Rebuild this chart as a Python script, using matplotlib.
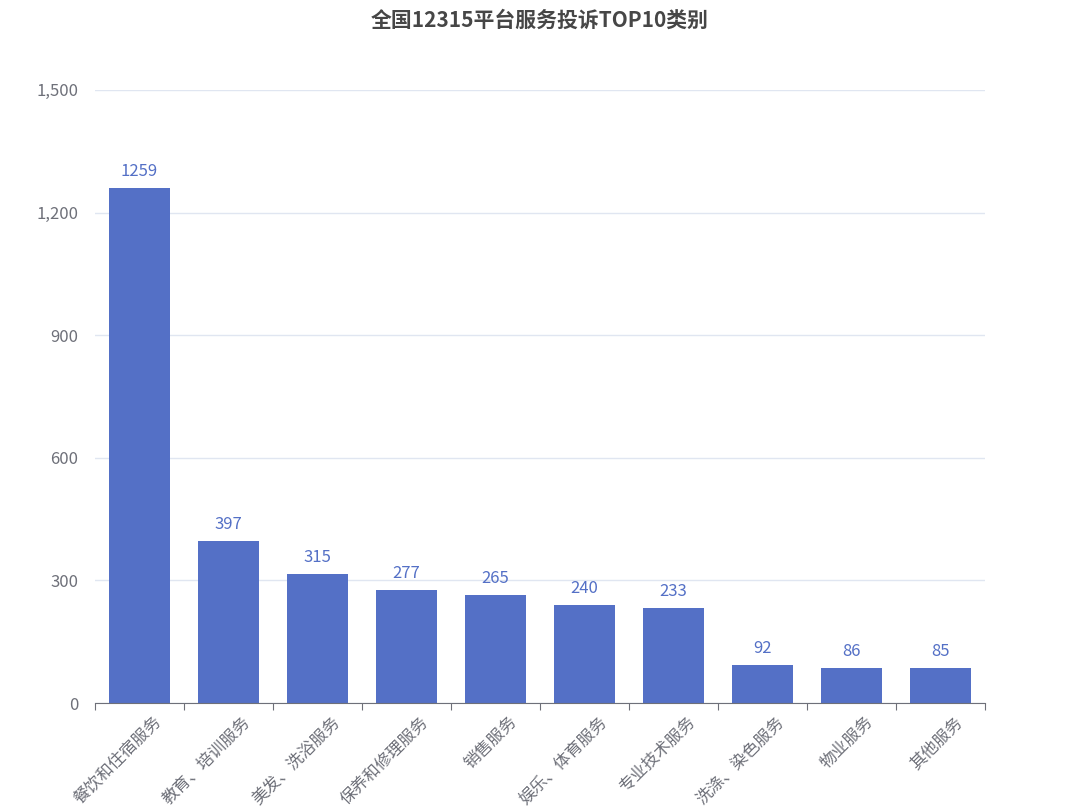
import matplotlib
matplotlib.use("Agg")
import matplotlib.pyplot as plt
from matplotlib.ticker import FuncFormatter

plt.rcParams['font.family'] = ['Noto Sans CJK SC', 'DejaVu Sans']

categories = ["餐饮和住宿服务", "教育、培训服务", "美发、洗浴服务", "保养和修理服务", "销售服务",
              "娱乐、体育服务", "专业技术服务", "洗涤、染色服务", "物业服务", "其他服务"]
values = [1259, 397, 315, 277, 265, 240, 233, 92, 86, 85]
yticks = [0, 300, 600, 900, 1200, 1500]

fig = plt.figure(figsize=(10.8, 8.1), dpi=100)
ax = fig.add_axes([0.088, 0.132, 0.824, 0.757])
x = range(len(categories))
bars = ax.bar(x, values, width=0.68, color="#5470c6", zorder=2)
for xi, v in zip(x, values):
    ax.text(xi, v + 20, str(v), ha="center", va="bottom", fontsize=12, color="#5470c6")
ax.set_xlim(-0.5, len(categories) - 0.5)
ax.set_ylim(0, 1500)
ax.set_yticks(yticks)
ax.yaxis.set_major_formatter(FuncFormatter(lambda v, p: f"{int(v):,}"))
ax.grid(axis="y", color="#e0e6f1", linewidth=1, zorder=0)
for s in ["top", "right", "left"]:
    ax.spines[s].set_visible(False)
ax.spines["bottom"].set_color("#6e7079")
ax.tick_params(axis="y", length=0, labelsize=12, labelcolor="#6e7079", pad=12)
ax.set_xticks([i + 0.5 for i in range(-1, len(categories))], minor=False)
ax.set_xticklabels([])
ax.tick_params(axis="x", length=5, color="#6e7079")
for xi, c in zip(x, categories):
    ax.text(xi + 0.15, -25, c, rotation=45, ha="right", va="top", fontsize=12,
            color="#6e7079", rotation_mode="anchor")
fig.text(0.5, 0.975, "全国12315平台服务投诉TOP10类别", ha="center", va="center",
         fontsize=15, fontweight="bold", color="#464646")
fig.savefig("out.png", dpi=100)
